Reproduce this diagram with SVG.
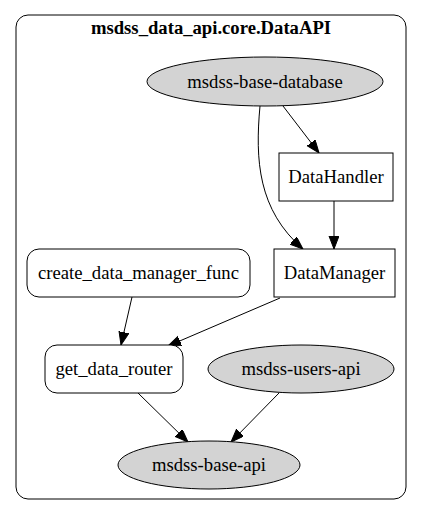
<svg xmlns="http://www.w3.org/2000/svg" width="421" height="516" viewBox="0 0 421 516">
<style>
text{font-family:'Liberation Serif','DejaVu Serif','Times New Roman',serif;font-size:18.67px;fill:#000;text-anchor:middle}
.title{font-weight:bold}
.box{fill:#fff;stroke:#000;stroke-width:1}
.ell{fill:#d3d3d3;stroke:#000;stroke-width:1}
.edge{fill:none;stroke:#000;stroke-width:1}
</style>
<defs>
<marker id="ah" markerUnits="userSpaceOnUse" markerWidth="14" markerHeight="11" refX="13" refY="5" orient="auto">
<path d="M0,0 L13,5 L0,10 z" fill="#000" stroke="#000" stroke-width="1"/>
</marker>
</defs>
<rect width="421" height="516" fill="#fff"/>
<g id="cluster">
<rect x="16" y="15" width="390" height="484" rx="12" ry="12" fill="#fff" stroke="#000" stroke-width="1"/>
<text class="title" x="211" y="34" font-family="Liberation Serif, serif">msdss_data_api.core.DataAPI</text>
</g>
<g id="edges">
<path class="edge" d="M283,106 L319,153" marker-end="url(#ah)"/>
<path class="edge" d="M260,106 C255,160 258,210 303,249" marker-end="url(#ah)"/>
<path class="edge" d="M334,201 L334,249" marker-end="url(#ah)"/>
<path class="edge" d="M132,297 L121,345" marker-end="url(#ah)"/>
<path class="edge" d="M280,298 L168,346" marker-end="url(#ah)"/>
<path class="edge" d="M138,393 L188,442" marker-end="url(#ah)"/>
<path class="edge" d="M279,393 L231,442" marker-end="url(#ah)"/>
</g>
<g id="msdss-base-database">
<ellipse class="ell" cx="265" cy="81.5" rx="118" ry="24.5"/>
<text x="265" y="88" font-family="Liberation Serif, serif">msdss-base-database</text>
</g>
<g id="DataHandler">
<rect class="box" x="279" y="153" width="114" height="48"/>
<text x="336" y="183" font-family="Liberation Serif, serif">DataHandler</text>
</g>
<g id="DataManager">
<rect class="box" x="274" y="249" width="121" height="48"/>
<text x="334.5" y="279" font-family="Liberation Serif, serif">DataManager</text>
</g>
<g id="create_data_manager_func">
<rect class="box" x="27" y="249" width="223" height="48" rx="12" ry="12"/>
<text x="138.5" y="279" font-family="Liberation Serif, serif">create_data_manager_func</text>
</g>
<g id="get_data_router">
<rect class="box" x="45" y="345" width="138" height="48" rx="12" ry="12"/>
<text x="114" y="375" font-family="Liberation Serif, serif">get_data_router</text>
</g>
<g id="msdss-users-api">
<ellipse class="ell" cx="301" cy="369" rx="93" ry="24"/>
<text x="301" y="375" font-family="Liberation Serif, serif">msdss-users-api</text>
</g>
<g id="msdss-base-api">
<ellipse class="ell" cx="209" cy="465" rx="91" ry="24"/>
<text x="209" y="471" font-family="Liberation Serif, serif">msdss-base-api</text>
</g>
</svg>
